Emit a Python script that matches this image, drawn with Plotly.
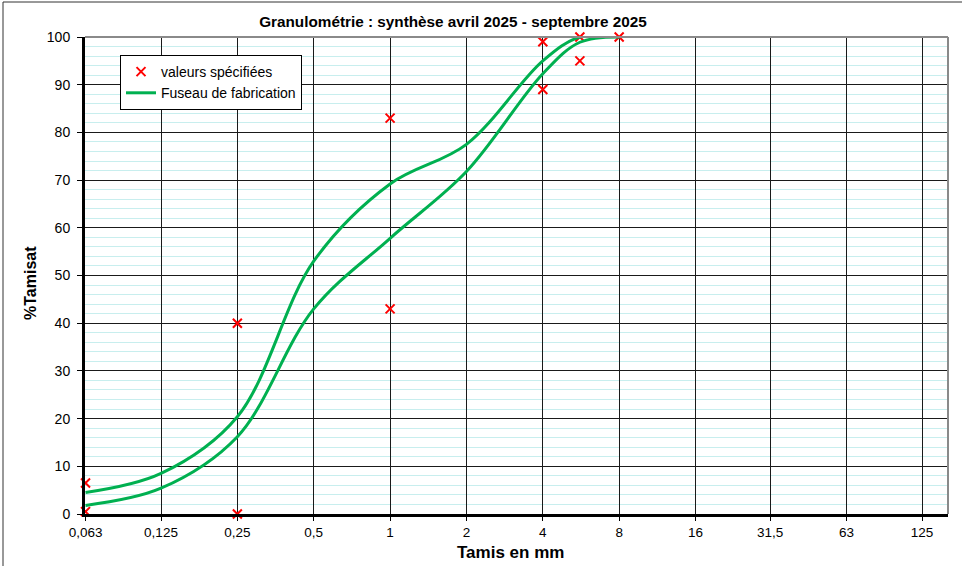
import math
import plotly.graph_objects as go

# ---- data ----
tamis = [0.063, 0.125, 0.25, 0.5, 1, 2, 4, 5.6, 8]
fuseau_haut = [4.5, 8.5, 20.4, 53.0, 69.2, 77.5, 95.0, 100, 100]
fuseau_bas = [1.8, 5.4, 16.2, 43.0, 57.8, 71.8, 92.3, 98.9, 100]

spec_x = [0.063, 0.063, 0.25, 0.25, 1, 1, 4, 4, 5.6, 5.6, 8]
spec_y = [6.5, 0.5, 40, 0, 83, 43, 99, 89, 100, 95, 100]

tick_vals = [0.063, 0.125, 0.25, 0.5, 1, 2, 4, 8, 16, 31.5, 63, 125]
tick_text = ["0,063", "0,125", "0,25", "0,5", "1", "2", "4", "8", "16", "31,5", "63", "125"]

title = "Granulométrie : synthèse avril 2025 - septembre 2025"
green = "#00b050"

W, H = 962, 566
L, R, T, B = 85, 14, 37, 52
pw, ph = W - L - R, H - T - B

def px(x):
    return (x - L) / pw

def py(y):
    return (H - B - y) / ph

fig = go.Figure()
fig.add_trace(go.Scatter(
    x=spec_x, y=spec_y, mode="markers", name="valeurs spécifiées",
    marker=dict(symbol="x-thin-open", size=9, color="#ff0000",
                line=dict(color="#ff0000", width=2)),
    cliponaxis=False,
))
fig.add_trace(go.Scatter(
    x=tamis, y=fuseau_haut, mode="lines", name="Fuseau de fabrication",
    line=dict(color=green, width=3, shape="spline", smoothing=1),
))
fig.add_trace(go.Scatter(
    x=tamis, y=fuseau_bas, mode="lines", name="Fuseau bas", showlegend=False,
    line=dict(color=green, width=3, shape="spline", smoothing=1),
))

font = "Liberation Sans, Arial, sans-serif"

fig.update_layout(
    width=W, height=H,
    margin=dict(l=L, r=R, t=T, b=B),
    paper_bgcolor="white", plot_bgcolor="white",
    font=dict(family=font, size=13, color="black"),
    title=dict(text="<b>" + title + "</b>", x=453 / W, xanchor="center",
               y=1 - 22 / H, yanchor="middle", font=dict(size=15.3)),
    showlegend=True,
    legend=dict(x=px(120), y=py(55), xanchor="left", yanchor="top",
                bordercolor="black", borderwidth=1, bgcolor="white",
                font=dict(size=14), tracegroupgap=0, itemwidth=30),
    xaxis=dict(
        type="log", range=[-1.2027, 2.1994],
        tickvals=tick_vals, ticktext=tick_text,
        showgrid=True, gridcolor="#1a1a1a", gridwidth=1,
        showline=True, linecolor="black", linewidth=3,
        ticks="outside", ticklen=4, tickcolor="black",
        zeroline=False, tickfont=dict(size=13.5),
    ),
    yaxis=dict(
        range=[0, 100], dtick=10, tick0=0,
        showgrid=True, gridcolor="#1a1a1a", gridwidth=1,
        showline=True, linecolor="black", linewidth=3,
        ticks="outside", ticklen=5, tickcolor="black",
        zeroline=False, tickfont=dict(size=14), ticklabelstandoff=4,
        minor=dict(dtick=2, showgrid=True, gridcolor="#c8eeee", gridwidth=1),
    ),
    shapes=[
        dict(type="line", xref="paper", yref="paper", x0=0, x1=1, y0=1, y1=1,
             line=dict(color="#8a8a8a", width=2)),
        dict(type="line", xref="paper", yref="paper", x0=1, x1=1, y0=0, y1=1,
             line=dict(color="#8a8a8a", width=2)),
        dict(type="line", xref="paper", yref="paper", x0=px(3), x1=px(3), y0=py(2), y1=py(H + 5),
             line=dict(color="#333333", width=1)),
        dict(type="line", xref="paper", yref="paper", x0=px(3), x1=px(W + 5), y0=py(2), y1=py(2),
             line=dict(color="#333333", width=1)),
    ],
    annotations=[
        dict(text="<b>Tamis en mm</b>", xref="paper", yref="paper",
             x=px(510), y=py(552), xanchor="center", yanchor="middle",
             showarrow=False, font=dict(size=17)),
        dict(text="<b>%Tamisat</b>", xref="paper", yref="paper",
             x=px(30), y=py(283), xanchor="center", yanchor="middle",
             textangle=-90, showarrow=False, font=dict(size=16)),
    ],
)

fig.write_html("out.html", config={"displayModeBar": False},
               post_script="document.body.style.margin='0';document.body.style.overflow='hidden';")
